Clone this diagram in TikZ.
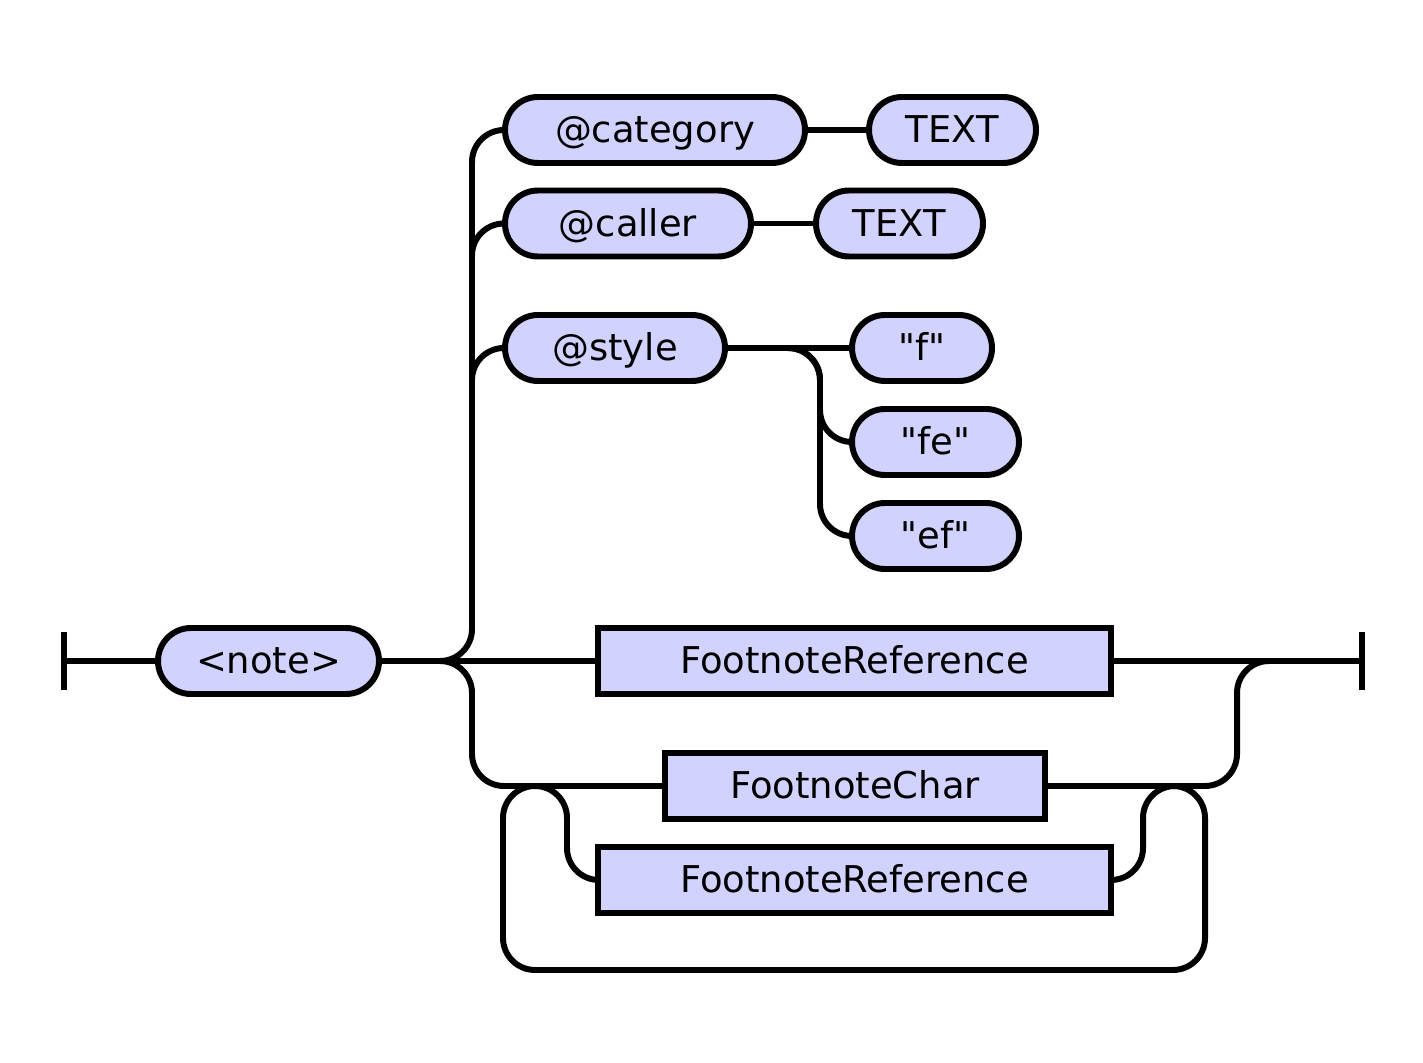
\documentclass[tikz,border=0pt]{standalone}
\usepackage{fontspec}
\newfontfamily\railfont{DejaVu Sans}
\usetikzlibrary{positioning}
\definecolor{railfill}{RGB}{210,210,255}

\begin{document}
\begin{tikzpicture}[
  font=\railfont\fontsize{10.5}{12}\selectfont,
  term/.style={draw, line width=1.7pt, fill=railfill, rounded corners=0.33cm,
               minimum height=0.66cm, inner sep=0pt, text height=0.72em, text depth=0pt},
  nonterm/.style={draw, line width=1.7pt, fill=railfill,
                  minimum height=0.66cm, inner sep=0pt, text height=0.72em, text depth=0pt},
  rail/.style={line width=1.7pt, rounded corners=0.32cm},
]
  \useasboundingbox (0,0) rectangle (14.23,-10.63);

  % start and end
  \coordinate (start) at (0.64,-6.61);
  \coordinate (stop)  at (13.62,-6.61);
  \draw[line width=1.7pt] (0.64,-6.32) -- (0.64,-6.90);
  \draw[line width=1.7pt] (13.62,-6.32) -- (13.62,-6.90);

  % nodes
  \node[term]    (note)   at (2.685,-6.61) [minimum width=2.21cm] {<note>};
  \node[term]    (cat)    at (6.55,-1.30)  [minimum width=3.00cm] {@category};
  \node[term]    (text1)  at (9.525,-1.30) [minimum width=1.67cm] {TEXT};
  \node[term]    (caller) at (6.28,-2.235) [minimum width=2.46cm] {@caller};
  \node[term]    (text2)  at (8.995,-2.235)[minimum width=1.67cm] {TEXT};
  \node[term]    (style)  at (6.15,-3.48)  [minimum width=2.20cm] {@style};
  \node[term]    (f)      at (9.22,-3.48)  [minimum width=1.40cm] {"f"};
  \node[term]    (fe)     at (9.355,-4.42) [minimum width=1.67cm] {"fe"};
  \node[term]    (ef)     at (9.355,-5.36) [minimum width=1.67cm] {"ef"};
  \node[nonterm] (fref1)  at (8.545,-6.61) [minimum width=5.13cm] {FootnoteReference};
  \node[nonterm] (fchar)  at (8.55,-7.86)  [minimum width=3.80cm] {FootnoteChar};
  \node[nonterm] (fref2)  at (8.545,-8.80) [minimum width=5.13cm] {FootnoteReference};

  % junctions
  \coordinate (split) at (4.40,-6.61);
  \coordinate (join)  at (12.69,-6.61);
  \coordinate (stj)   at (7.88,-3.48);
  \coordinate (lpl)   at (5.35,-7.86);
  \coordinate (lpr)   at (11.75,-7.86);

  % main line
  \draw[rail] (start) -- (note.west);
  \draw[rail] (note.east) -- (split) -- (fref1.west);
  \draw[rail] (fref1.east) -- (stop);

  % attributes
  \draw[rail] (split) -| (4.72,-1.30) -- (cat.west);
  \draw[rail] (4.72,-2.555) |- (caller.west);
  \draw[rail] (4.72,-3.80) |- (style.west);
  \draw[rail] (cat.east) -- (text1.west);
  \draw[rail] (caller.east) -- (text2.west);
  \draw[rail] (style.east) -- (f.west);
  \draw[rail] (stj) -| (8.20,-4.42) -- (fe.west);
  \draw[rail] (stj) -| (8.20,-5.36) -- (ef.west);

  % footnote chars, repeated
  \draw[rail] (split) -| (4.72,-7.86) -- (fchar.west);
  \draw[rail] (fchar.east) -| (12.37,-6.61) -- (join);
  \draw[rail] (lpl) -| (5.67,-8.80) -- (fref2.west);
  \draw[rail] (fref2.east) -| (11.43,-7.86) -- (lpr);
  \draw[rail] (lpl) -| (5.03,-9.70) -| (12.05,-7.86) -- (lpr);
\end{tikzpicture}
\end{document}
